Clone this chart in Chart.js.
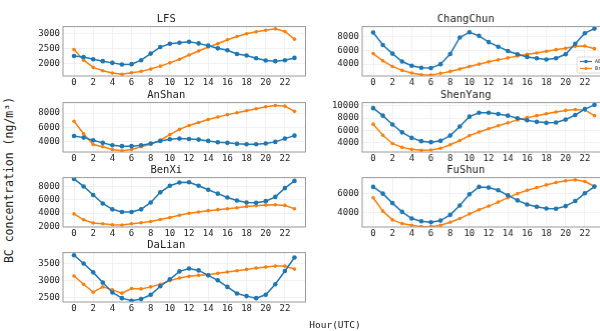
<!DOCTYPE html>
<html><head><meta charset="utf-8">
<script src="https://cdn.jsdelivr.net/npm/chart.js@4.4.0/dist/chart.umd.min.js"></script>
<style>
html,body{margin:0;padding:0;background:#fff;width:600px;height:331px;overflow:hidden;position:relative}
.p{position:absolute}
.lab{position:absolute;white-space:nowrap;color:#222;font-family:'DejaVu Sans Mono',monospace}
</style></head><body>
<div class="p" id="d0"><canvas id="c0"></canvas></div>
<div class="p" id="d1"><canvas id="c1"></canvas></div>
<div class="p" id="d2"><canvas id="c2"></canvas></div>
<div class="p" id="d3"><canvas id="c3"></canvas></div>
<div class="p" id="d4"><canvas id="c4"></canvas></div>
<div class="p" id="d5"><canvas id="c5"></canvas></div>
<div class="p" id="d6"><canvas id="c6"></canvas></div>
<div class="lab" id="ylab" style="left:9px;top:180px;transform:translate(-50%,-50%) rotate(-90deg);font-size:11.5px">BC concentration (ng/m³)</div>
<div class="lab" id="xlab" style="left:335px;top:324px;transform:translate(-50%,-50%);font-size:9.5px">Hour(UTC)</div>
<script>
// ---------- data ----------
const hours = [0,1,2,3,4,5,6,7,8,9,10,11,12,13,14,15,16,17,18,19,20,21,22,23];
const xTickLabels = [0,2,4,6,8,10,12,14,16,18,20,22];
const seriesNames = ['AE33', 'BrC'];
const stationNames = ['LFS','ChangChun','AnShan','ShenYang','BenXi','FuShun','DaLian'];

const lfsBlue   = [2243,2210,2133,2067,2010,1957,1967,2100,2323,2543,2657,2690,2723,2667,2590,2500,2433,2310,2257,2167,2090,2067,2100,2177];
const lfsOrange = [2457,2100,1857,1743,1667,1623,1677,1723,1800,1900,2010,2133,2277,2410,2543,2657,2790,2900,2990,3057,3110,3157,3067,2810];

const changchunBlue   = [8571,6762,5524,4381,3762,3476,3429,4000,5476,7857,8619,8095,7190,6524,5905,5429,5048,4857,4667,4857,5429,6952,8476,9143];
const changchunOrange = [5524,4476,3667,3095,2714,2476,2429,2667,2952,3286,3667,4000,4333,4619,4905,5190,5429,5619,5857,6095,6286,6571,6619,6238];

const anshanBlue   = [4818,4591,4227,3864,3545,3409,3409,3545,3773,4136,4364,4455,4409,4318,4136,3955,3864,3727,3682,3682,3773,4000,4455,4864];
const anshanOrange = [6864,5136,3636,3318,2955,2773,2955,3318,3682,4227,5000,5727,6273,6682,7091,7455,7773,8045,8318,8591,8864,9045,8955,8227];

const shenyangBlue   = [9625,8393,6946,5661,4750,4214,4054,4268,5125,6625,8232,8875,8875,8661,8393,7964,7643,7375,7214,7268,7750,8500,9464,10161];
const shenyangOrange = [7000,5179,3839,3196,2875,2714,2768,3036,3625,4321,5125,5714,6250,6732,7214,7696,8071,8393,8714,8982,9250,9411,9304,8393];

const benxiBlue   = [9131,8000,6721,5443,4557,4164,4164,4557,5590,7115,8098,8590,8639,8098,7508,6918,6328,5885,5590,5541,5787,6426,7754,8836];
const benxiOrange = [3869,2984,2492,2393,2246,2197,2393,2541,2738,3033,3328,3672,3967,4164,4361,4508,4656,4803,5000,5098,5197,5246,5148,4656];

const fushunBlue   = [6655,5966,5000,4103,3414,3138,3034,3207,3793,4759,5897,6655,6586,6310,5793,5276,4862,4621,4448,4414,4690,5207,6000,6690];
const fushunOrange = [5552,4172,3276,2897,2724,2586,2586,2724,3034,3414,3897,4310,4690,5103,5552,5966,6310,6586,6862,7103,7276,7379,7207,6724];

const dalianBlue   = [3743,3500,3238,2937,2646,2480,2403,2451,2578,2830,3034,3267,3354,3296,3150,3005,2811,2617,2539,2480,2578,2888,3277,3675];
const dalianOrange = [3131,2888,2655,2811,2723,2626,2762,2752,2811,2888,2995,3073,3121,3150,3170,3209,3248,3286,3325,3364,3393,3422,3422,3335];

const lfsYTicks       = [2000,2500,3000];
const changchunYTicks = [4000,6000,8000];
const anshanYTicks    = [4000,6000,8000];
const shenyangYTicks  = [4000,6000,8000,10000];
const benxiYTicks     = [2000,4000,6000,8000];
const fushunYTicks    = [4000,6000];
const dalianYTicks    = [2500,3000,3500];

// ---------- layout ----------
const Y_AXIS_W = 40, X_AXIS_H = 14, TITLE_H = 13;
const panels = [
  {blue:lfsBlue, orange:lfsOrange, yt:lfsYTicks, ymin:1567, ymax:3233, left:62.5, top:26, legend:false},
  {blue:changchunBlue, orange:changchunOrange, yt:changchunYTicks, ymin:2286, ymax:9429, left:362, top:26, legend:true},
  {blue:anshanBlue, orange:anshanOrange, yt:anshanYTicks, ymin:2600, ymax:9440, left:62.5, top:101.5, legend:false},
  {blue:shenyangBlue, orange:shenyangOrange, yt:shenyangYTicks, ymin:2440, ymax:10530, left:362, top:101.5, legend:false},
  {blue:benxiBlue, orange:benxiOrange, yt:benxiYTicks, ymin:1900, ymax:9330, left:62.5, top:176.7, legend:false},
  {blue:fushunBlue, orange:fushunOrange, yt:fushunYTicks, ymin:2550, ymax:7610, left:362, top:176.7, legend:false},
  {blue:dalianBlue, orange:dalianOrange, yt:dalianYTicks, ymin:2366, ymax:3820, left:62.5, top:252.3, legend:false}
];
const FRAME_W = 246.5, FRAME_H = 50;

const framePlugin = {
  id:'frame',
  afterDraw(chart){
    const a = chart.chartArea, c = chart.ctx;
    c.save(); c.strokeStyle = '#9a9a9a'; c.lineWidth = 1;
    c.strokeRect(a.left, a.top, a.right - a.left, a.bottom - a.top);
    c.restore();
  }
};
const cornerLegend = {
  id:'cornerLegend',
  afterDraw(chart, args, opts){
    if (!opts.show) return;
    const a = chart.chartArea, c = chart.ctx, ds = chart.data.datasets;
    const bw = 32, bh = 16;
    const x0 = a.left + 214, y0 = a.bottom - bh - 3;
    c.save();
    c.fillStyle = 'rgba(255,255,255,0.85)'; c.strokeStyle = '#d0d0d0'; c.lineWidth = 0.8;
    c.beginPath(); c.roundRect(x0, y0, bw, bh, 2); c.fill(); c.stroke();
    c.font = "5px 'DejaVu Sans Mono'"; c.textBaseline = 'middle';
    ds.forEach((d, i) => {
      const yy = y0 + 4.5 + i * 7;
      c.strokeStyle = d.borderColor; c.lineWidth = 1.2;
      c.beginPath(); c.moveTo(x0 + 3, yy); c.lineTo(x0 + 15, yy); c.stroke();
      c.fillStyle = d.borderColor;
      c.beginPath(); c.arc(x0 + 9, yy, i === 0 ? 1.8 : 1.5, 0, Math.PI * 2); c.fill();
      c.fillStyle = '#333'; c.fillText(d.label, x0 + 18, yy);
    });
    c.restore();
  }
};

Chart.defaults.font.family = "'DejaVu Sans Mono', monospace";
Chart.defaults.color = '#222';

panels.forEach((p, i) => {
  const div = document.getElementById('d' + i);
  div.style.left = (p.left - Y_AXIS_W) + 'px';
  div.style.top = (p.top - TITLE_H) + 'px';
  div.style.width = (Y_AXIS_W + FRAME_W) + 'px';
  div.style.height = (TITLE_H + FRAME_H + X_AXIS_H) + 'px';
  new Chart(document.getElementById('c' + i), {
    type: 'line',
    data: {
      datasets: [
        {label: seriesNames[0], data: hours.map((h, k) => ({x: h, y: p.blue[k]})),
         borderColor: '#1f77b4', backgroundColor: '#1f77b4', borderWidth: 1.5,
         pointRadius: 2.3, pointBorderWidth: 0, pointBackgroundColor: '#1f77b4'},
        {label: seriesNames[1], data: hours.map((h, k) => ({x: h, y: p.orange[k]})),
         borderColor: '#ff7f0e', backgroundColor: '#ff7f0e', borderWidth: 1.5,
         pointRadius: 1.8, pointBorderWidth: 0, pointBackgroundColor: '#ff7f0e'}
      ]
    },
    options: {
      responsive: true, maintainAspectRatio: false, animation: false,
      layout: {padding: 0},
      plugins: {
        legend: {display: false},
        tooltip: {enabled: false},
        title: {display: true, text: stationNames[i], padding: {top: 0, bottom: 1},
                font: {size: 10.5, weight: 'normal'}, color: '#222'},
        cornerLegend: {show: p.legend}
      },
      scales: {
        x: {
          type: 'linear', min: -1.15, max: 24.15,
          afterBuildTicks: s => { s.ticks = xTickLabels.map(v => ({value: v})); },
          afterFit: s => { s.height = X_AXIS_H; },
          ticks: {font: {size: 9}, padding: 1, maxRotation: 0, autoSkip: false},
          grid: {color: '#eeeeee', lineWidth: 0.8, drawTicks: false},
          border: {display: false}
        },
        y: {
          min: p.ymin, max: p.ymax,
          afterBuildTicks: s => { s.ticks = p.yt.map(v => ({value: v})); },
          afterFit: s => { s.width = Y_AXIS_W; },
          ticks: {font: {size: 9}, padding: 3, callback: v => String(v)},
          grid: {color: '#eeeeee', lineWidth: 0.8, drawTicks: false},
          border: {display: false}
        }
      }
    },
    plugins: [framePlugin, cornerLegend]
  });
});
</script>
</body></html>
